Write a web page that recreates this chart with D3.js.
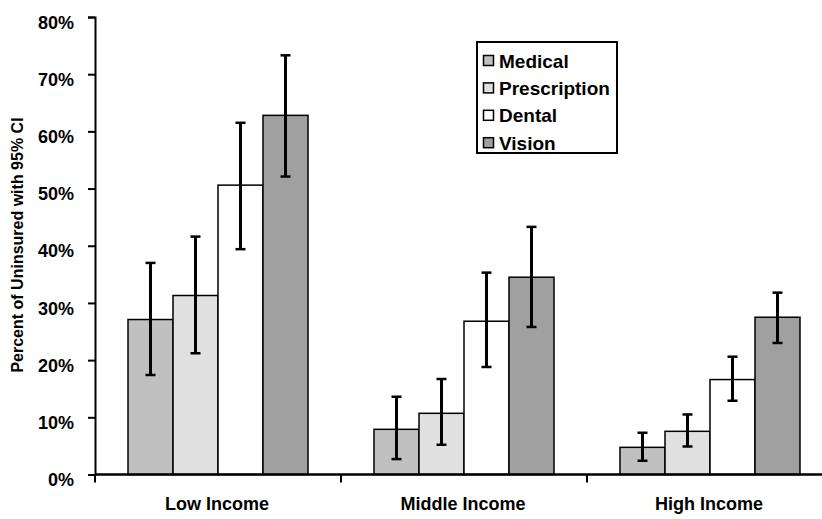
<!DOCTYPE html>
<html><head><meta charset="utf-8">
<script src="https://cdn.jsdelivr.net/npm/d3@7"></script>
<style>body{margin:0;background:#fff;}svg{display:block;font-family:"Liberation Sans",Arial,sans-serif;font-weight:bold;}</style>
</head><body><svg id="c" width="822" height="519"></svg>
<script>
const categories = ["Low Income", "Middle Income", "High Income"];
const seriesNames = ["Medical", "Prescription", "Dental", "Vision"];
const seriesColors = ["#c0c0c0", "#e0e0e0", "#ffffff", "#a0a0a0"];
const medical = [27.1, 7.9, 4.75];
const medicalLo = [17.4, 2.7, 2.4];
const medicalHi = [37.0, 13.6, 7.3];
const prescription = [31.3, 10.7, 7.55];
const prescriptionLo = [21.2, 5.2, 4.9];
const prescriptionHi = [41.6, 16.7, 10.5];
const dental = [50.6, 26.8, 16.6];
const dentalLo = [39.4, 18.8, 12.9];
const dentalHi = [61.5, 35.3, 20.6];
const vision = [62.8, 34.5, 27.5];
const visionLo = [52.1, 25.8, 23.0];
const visionHi = [73.3, 43.3, 31.8];
const yTicks = [0, 10, 20, 30, 40, 50, 60, 70, 80];

const vals = [medical, prescription, dental, vision];
const los = [medicalLo, prescriptionLo, dentalLo, visionLo];
const his = [medicalHi, prescriptionHi, dentalHi, visionHi];

const svg = d3.select("#c");
const x0 = d3.scaleBand().domain(categories).range([95, 833]).paddingInner(0).paddingOuter(0);
const x1 = d3.scaleBand().domain(seriesNames).range([33, 213]);
const y = d3.scaleLinear().domain([0, 80]).range([474.5, 17]);

// bars
categories.forEach((c, ci) => {
  seriesNames.forEach((s, si) => {
    const bx = x0(c) + x1(s);
    svg.append("rect").attr("x", bx).attr("y", y(vals[si][ci]))
      .attr("width", x1.bandwidth()).attr("height", y(0) - y(vals[si][ci]))
      .attr("fill", seriesColors[si]).attr("stroke", "#000").attr("stroke-width", 1.5);
  });
});
// error bars
categories.forEach((c, ci) => {
  seriesNames.forEach((s, si) => {
    const cx = x0(c) + x1(s) + x1.bandwidth() / 2;
    const g = svg.append("g").attr("stroke", "#000").attr("stroke-width", 3);
    g.append("line").attr("x1", cx).attr("x2", cx).attr("y1", y(los[si][ci])).attr("y2", y(his[si][ci]));
    g.append("line").attr("x1", cx - 5).attr("x2", cx + 5).attr("y1", y(los[si][ci])).attr("y2", y(los[si][ci])).attr("stroke-width", 2.5);
    g.append("line").attr("x1", cx - 5).attr("x2", cx + 5).attr("y1", y(his[si][ci])).attr("y2", y(his[si][ci])).attr("stroke-width", 2.5);
  });
});

// y axis
const yAxis = d3.axisLeft(y).tickValues(yTicks).tickFormat(d => d + "%").tickSizeOuter(0).tickSize(7).tickPadding(14);
const ga = svg.append("g").attr("transform", "translate(95,0)").call(yAxis);
ga.select(".domain").attr("stroke-width", 2);
ga.selectAll(".tick line").attr("stroke-width", 2);
ga.selectAll(".tick text").attr("font-size", 18).attr("font-weight", "bold").attr("dy", "0.62em")
  .attr("font-family", "Liberation Sans, Arial, sans-serif").attr("fill", "#000");

// x axis
const xg = svg.append("g").attr("transform", "translate(0,474.5)");
xg.append("line").attr("x1", 95).attr("x2", 833).attr("stroke", "#000").attr("stroke-width", 2.5);
[0, 1, 2].forEach(i => {
  const tx = x0(categories[i]);
  xg.append("line").attr("x1", tx).attr("x2", tx).attr("y1", 0).attr("y2", 8).attr("stroke", "#000").attr("stroke-width", 2);
});
categories.forEach(c => {
  xg.append("text").attr("x", x0(c) + x0.bandwidth() / 2 - 1).attr("y", 35.5)
    .attr("text-anchor", "middle").attr("font-size", 18).attr("fill", "#000").text(c);
});

// y title
svg.append("text").attr("transform", "translate(23,245) rotate(-90)").attr("text-anchor", "middle")
  .attr("font-size", 16).attr("fill", "#000").text("Percent of Uninsured with 95% CI");

// legend
const lg = svg.append("g");
lg.append("rect").attr("x", 477).attr("y", 42).attr("width", 140).attr("height", 111)
  .attr("fill", "#fff").attr("stroke", "#000").attr("stroke-width", 2);
seriesNames.forEach((s, i) => {
  const cy = 61 + i * 27.4;
  lg.append("rect").attr("x", 483.5).attr("y", cy - 5.5).attr("width", 10).attr("height", 10)
    .attr("fill", seriesColors[i]).attr("stroke", "#000").attr("stroke-width", 1.5);
  lg.append("text").attr("x", 499).attr("y", cy + 6.5).attr("font-size", 19).attr("fill", "#000").text(s);
});
</script></body></html>
